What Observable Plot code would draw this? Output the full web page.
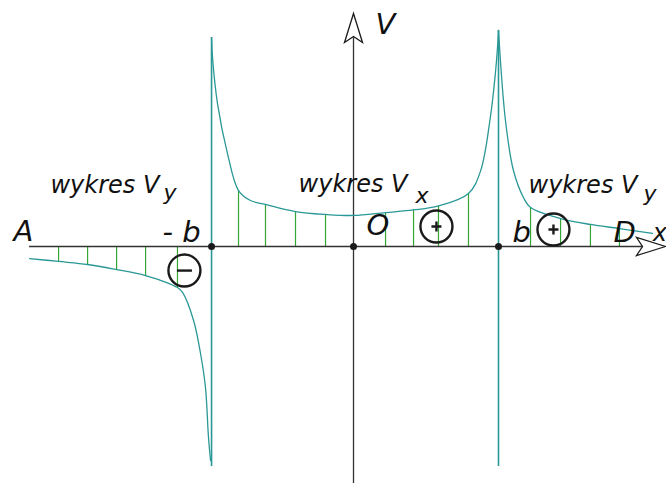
<!DOCTYPE html>
<html><head><meta charset="utf-8">
<script src="https://cdn.jsdelivr.net/npm/d3@7"></script>
<script src="https://cdn.jsdelivr.net/npm/@observablehq/plot@0.6"></script>
<style>body{margin:0;background:#fff}svg{display:block}</style>
</head><body><div id="chart"></div>
<script>
// Units: b = 1 (origin O at the crossing of the axes)
const xDomain = [-2.4345, 2.1586];
const yDomain = [-1.6345, 1.6966];

// axes extents
const xAxisFrom = -2.234, xAxisTo = 2.0;
const yAxisFrom = -1.6345, yAxisTo = 1.44;
const arrowU = [2.152, 0], arrowV = [0, 1.607], arrowRot = [90, 0];
const nodeU = [-0.979, 0, 1.0];

// asymptote lines at -b and b
const asymU = [-0.979, 1.0], asymTop = [1.441, 1.49], asymBottom = [-1.517, -1.517];

// V_y left of -b (negative)
const leftU = [-2.234, -2.034, -1.834, -1.634, -1.434, -1.214, -1.179, -1.103, -1.055, -1.021, -1.0, -0.986];
const leftV = [-0.083, -0.103, -0.124, -0.159, -0.2, -0.283, -0.317, -0.51, -0.738, -0.972, -1.317, -1.476];
// V_x between -b and b
const midU = [-0.979, -0.972, -0.938, -0.869, -0.793, -0.710, -0.607, -0.4, -0.193, 0, 0.221, 0.414, 0.586, 0.793, 0.876, 0.945, 0.979, 0.993, 1.0];
const midV = [1.441, 1.30, 0.986, 0.641, 0.386, 0.317, 0.290, 0.241, 0.221, 0.214, 0.234, 0.252, 0.280, 0.366, 0.52, 0.90, 1.20, 1.37, 1.49];
// V_y right of b
const rightU = [1.0, 1.048, 1.103, 1.172, 1.221, 1.428, 1.634, 1.834, 2.062];
const rightV = [1.49, 0.869, 0.524, 0.338, 0.269, 0.193, 0.152, 0.124, 0.090];

// hatching
const hatchU = [-2.034, -1.834, -1.634, -1.434, -1.214, -0.793, -0.607, -0.4, -0.193, 0.221, 0.414, 0.586, 0.793, 1.221, 1.428, 1.634, 1.834];
const hatchV = [-0.103, -0.124, -0.159, -0.2, -0.283, 0.386, 0.290, 0.241, 0.221, 0.234, 0.252, 0.280, 0.366, 0.269, 0.193, 0.152, 0.124];

// sign circles
const signType = ["-", "+", "+"];
const signU = [-1.166, 0.572, 1.379];
const signV = [-0.166, 0.138, 0.117];

// point labels
const labelText = ["A", "- b", "O", "b", "D", "V", "x"];
const labelU = [-2.345, -1.317, 0.090, 1.097, 1.793, 0.152, 2.063];
const labelV = [0.041, 0.028, 0.076, 0.028, 0.034, 1.469, 0.041];
const labelSize = [29, 29, 29, 29, 29, 29, 24];

// diagram titles
const titleText = ["wykres V", "wykres V", "wykres V"];
const titleU = [-2.090, -0.379, 1.207];
const titleV = [0.372, 0.379, 0.372];
const subText = ["y", "x", "y"];
const subU = [-1.310, 0.428, 2.0];
const subV = [0.324, 0.297, 0.317];

const teal = "#2a9896", green = "#33a633", ink = "#1a1a1a";
const rows = (us, vs, extra = {}) => us.map((u, i) => Object.fromEntries([["u", u], ["v", vs[i]], ...Object.entries(extra).map(([k, a]) => [k, a[i]])]));

const arrowHead = {draw(c) { c.moveTo(0, 0); c.lineTo(9, 29); c.lineTo(0, 23); c.lineTo(-9, 29); c.closePath(); }};
const plusSym = {draw(c) { c.moveTo(-5, 0); c.lineTo(5, 0); c.moveTo(0, -5); c.lineTo(0, 5); }};
const minusSym = {draw(c) { c.moveTo(-7.5, 0); c.lineTo(7.5, 0); }};

const signs = rows(signU, signV, {t: signType});
const curveOpts = {x: "u", y: "v", curve: "catmull-rom", stroke: teal, strokeWidth: 1.3};
const txt = {x: "u", y: "v", text: "t", textAnchor: "start", lineAnchor: "bottom", fontStyle: "italic", fill: "#111"};
const labels = rows(labelU, labelV, {t: labelText, s: labelSize});

const chart = Plot.plot({
  width: 666, height: 483, margin: 0,
  x: {domain: xDomain, axis: null},
  y: {domain: yDomain, axis: null},
  style: {background: "#fff", fontFamily: "DejaVu Sans"},
  marks: [
    Plot.ruleX(rows(hatchU, hatchV), {x: "u", y1: 0, y2: "v", stroke: green, strokeWidth: 1.2}),
    Plot.ruleY([0], {x1: xAxisFrom, x2: xAxisTo, stroke: "#333", strokeWidth: 1.3}),
    Plot.ruleX([0], {y1: yAxisFrom, y2: yAxisTo, stroke: "#333", strokeWidth: 1.3}),
    Plot.ruleX(rows(asymU, asymTop, {b: asymBottom}), {x: "u", y1: "v", y2: "b", stroke: teal, strokeWidth: 1.6}),
    Plot.line(rows(leftU, leftV), curveOpts),
    Plot.line(rows(midU, midV), curveOpts),
    Plot.line(rows(rightU, rightV), curveOpts),
    Plot.dot(rows(arrowU, arrowV, {rot: arrowRot}), {x: "u", y: "v", symbol: arrowHead, rotate: "rot", fill: "#fff", stroke: ink, strokeWidth: 1.3}),
    Plot.dot(nodeU.map(u => ({u, v: 0})), {x: "u", y: "v", r: 3.5, fill: ink}),
    Plot.dot(signs, {x: "u", y: "v", r: 16, stroke: ink, strokeWidth: 2.4, fill: "none"}),
    Plot.dot(signs.filter(d => d.t === "+"), {x: "u", y: "v", symbol: plusSym, stroke: ink, strokeWidth: 2.4}),
    Plot.dot(signs.filter(d => d.t === "-"), {x: "u", y: "v", symbol: minusSym, stroke: ink, strokeWidth: 2.4}),
    ...labels.map(d => Plot.text([d], {...txt, fontSize: d.s})),
    Plot.text(rows(titleU, titleV, {t: titleText}), {...txt, fontSize: 24}),
    Plot.text(rows(subU, subV, {t: subText}), {...txt, fontSize: 22})
  ]
});
document.getElementById("chart").appendChild(chart);
</script>
</body></html>
